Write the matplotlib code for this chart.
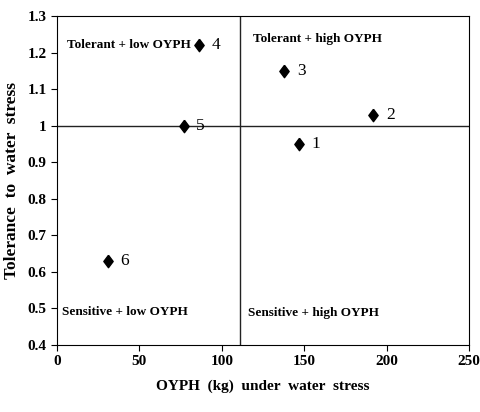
import matplotlib.pyplot as plt

# dados
oyph = [147, 192, 138, 86, 77, 31]
tolerancia = [0.95, 1.03, 1.15, 1.22, 1.0, 0.63]
rotulos = ['1', '2', '3', '4', '5', '6']
linha_x = 111
linha_y = 1.0

plt.rcParams['font.family'] = ['Liberation Serif', 'DejaVu Serif']

fig = plt.figure(figsize=(4.81, 4.12), dpi=100)
ax = fig.add_axes([0.1185, 0.1626, 0.8565, 0.7985])

losango = [(0, 1), (0.75, 0), (0, -1), (-0.75, 0), (0, 1)]
ax.scatter(oyph, tolerancia, marker=losango, s=80, color='black', zorder=3)
for x, y, r in zip(oyph, tolerancia, rotulos):
    ax.annotate(r, (x, y), xytext=(9, 0), textcoords='offset points',
                va='center', ha='left', fontsize=12.5)

ax.axvline(linha_x, color='#222222', lw=1)
ax.axhline(linha_y, color='#222222', lw=1)

# quadrantes
ax.text(6, 1.22, 'Tolerant + low OYPH', fontsize=9.5, fontweight='bold', va='center')
ax.text(119, 1.237, 'Tolerant + high OYPH', fontsize=9.5, fontweight='bold', va='center')
ax.text(3, 0.49, 'Sensitive + low OYPH', fontsize=9.5, fontweight='bold', va='center')
ax.text(116, 0.487, 'Sensitive + high OYPH', fontsize=9.5, fontweight='bold', va='center')

ax.set_xlim(0, 250)
ax.set_ylim(0.4, 1.3)
ax.set_xticks([0, 50, 100, 150, 200, 250])
ax.set_yticks([0.4, 0.5, 0.6, 0.7, 0.8, 0.9, 1.0, 1.1, 1.2, 1.3])
ax.set_yticklabels(['0.4', '0.5', '0.6', '0.7', '0.8', '0.9', '1', '1.1', '1.2', '1.3'])
ax.tick_params(direction='out', length=4, labelsize=11)
for lab in ax.get_xticklabels() + ax.get_yticklabels():
    lab.set_fontweight('bold')

ax.set_xlabel('OYPH  (kg)  under  water  stress', fontsize=11, fontweight='bold', labelpad=8)
ax.set_ylabel('Tolerance  to  water  stress', fontsize=12.5, fontweight='bold', labelpad=5)

plt.savefig('out.png')
